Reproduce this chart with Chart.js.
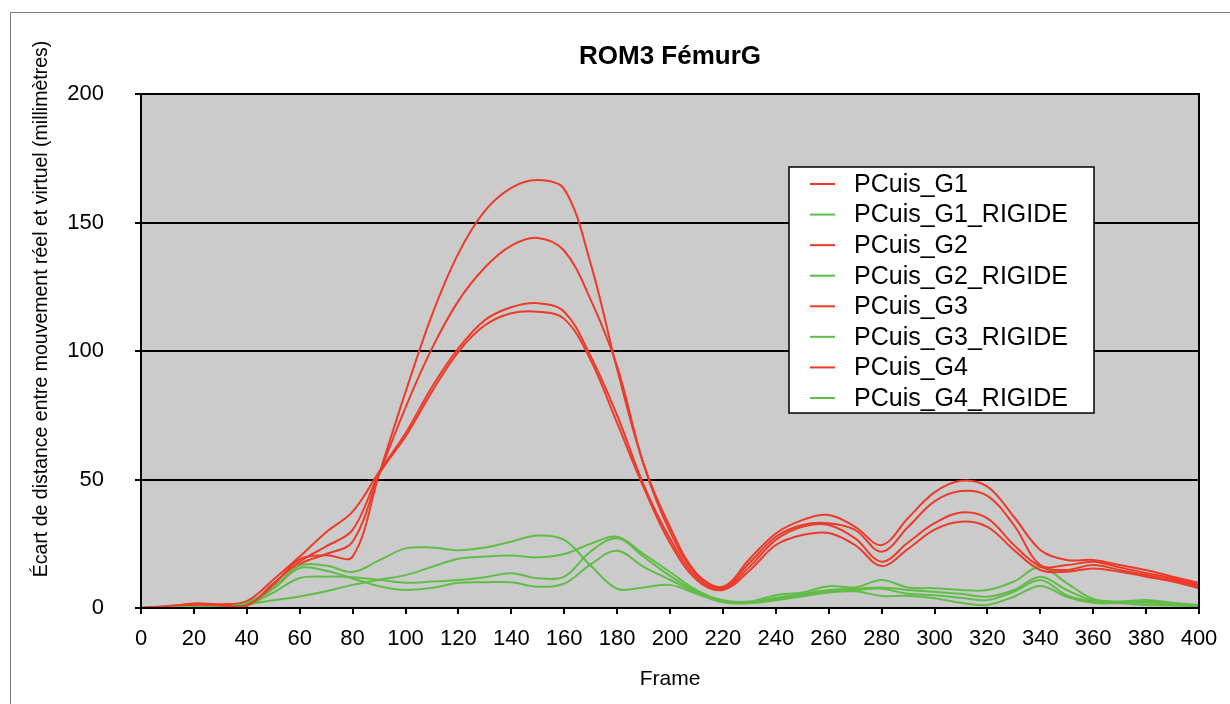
<!DOCTYPE html>
<html><head><meta charset="utf-8">
<script src="https://cdn.jsdelivr.net/npm/chart.js@4.4.0/dist/chart.umd.min.js"></script>
<style>
html,body{margin:0;padding:0;background:#fff;overflow:hidden;}
#wrap{position:relative;width:1230px;height:704px;}
#frame{position:absolute;left:10px;top:12px;width:1240px;height:710px;border-top:1px solid #808080;border-left:1px solid #808080;}
canvas{position:absolute;left:0;top:0;}
</style></head><body>
<div id="wrap"><div id="frame"></div><canvas id="c" width="1230" height="704"></canvas></div>
<script>
const chartTitle = 'ROM3 FémurG';
const xTitle = 'Frame';
const yTitle = 'Écart de distance entre mouvement réel et virtuel (millimètres)';
const frames = [0,10,20,30,40,50,60,70,80,90,100,110,120,130,140,150,160,170,180,190,200,210,220,230,240,250,260,270,280,290,300,310,320,330,340,350,360,370,380,390,400];
const seriesNames = ['PCuis_G1','PCuis_G1_RIGIDE','PCuis_G2','PCuis_G2_RIGIDE','PCuis_G3','PCuis_G3_RIGIDE','PCuis_G4','PCuis_G4_RIGIDE'];
const g1 = [0,0.8,1.5,1,1,9,19,20.5,20,52,84,114,138,154.5,163.5,166.5,163,134,93,56,31.5,13.5,8.3,19,29,34.2,36.2,31.6,24.5,35,45,49.5,47.2,35.5,22.6,18.7,18.7,16.7,14.8,12.2,9.8];
const g2 = [0,0.5,1.2,1,2,8,17,21,25.8,52,78,101,119.5,132.5,141,144,139,120,94,56,29.7,13,8,17.5,27.7,32.3,33,30.4,21.9,31.5,41.5,45.5,43.6,32.3,16.7,16.7,18,15.8,13.6,11.6,9];
const g3 = [0,0.5,1.8,1.5,2.7,11,20,29.5,37.5,53,68,86,101,112,117,118.6,115.3,98,75,48,27,12,7.5,16,26.5,31.6,32.3,27.1,18,25.5,33,37.2,34.9,24.5,16.1,14.8,16.7,14.8,12.8,10.9,8.5];
const g4 = [0,0.3,1,0.5,0.8,9.5,18,24,30.4,52,66.7,84.2,99.7,110,114.7,115.3,112.5,96.5,72,47,25.3,11,7,14.5,24.5,28.4,29.2,24.5,16.3,23,30.5,33.6,31.6,22.6,14.8,14.1,15.4,14.1,12.2,10.3,7.7];
const g1r = [0,0.3,0.5,0.6,2,8,16.5,16.5,14,18.5,23.2,23.5,22.5,23.5,25.8,28.2,26.5,16.5,7.5,8,9,5.5,2.2,1.8,3,4.5,6,6.5,4.7,4.7,3.8,2,1.2,4.4,8.6,4.4,2,1.8,1.2,1,0.6];
const g2r = [0,0.3,0.5,0.5,1.5,7.5,15.5,14.5,11.5,8.5,7,7.8,9.8,10,10,8.3,9.5,17,22.3,16,11,6,2.5,2,3.5,5,6.5,7,7.5,5.5,5,4,3.1,6.3,10.9,5,2.5,2,2,1.2,0.8];
const g3r = [0,0.2,0.4,0.5,1.2,6,11.7,12.2,12,11,9.8,10.3,10.9,12,13.5,11.6,12.2,22,27.1,20,12.5,6.5,2.8,2.2,4,5.5,7,7.5,8,7,6.3,5.5,4.4,7,12.2,7,3,2.3,2.5,1.5,1];
const g4r = [0,0.1,0.2,0.4,1.5,3,4.5,6.5,9,11,12.8,16,19.2,20,20.4,19.7,21,25,27.7,21,14,7,3,2.5,5,6,8.5,8,10.9,8,7.7,7,7,10.3,16,9.7,3.5,2.5,3.1,2,1.2];
const seriesValues = [g1,g1r,g2,g2r,g3,g3r,g4,g4r];
const RED = '#ec3b2b', GREEN = '#62bd48';
const FONT = '"Liberation Sans", Arial, Helvetica, sans-serif';

const datasets = seriesNames.map((name,i)=>({
  label: name,
  data: frames.map((f,j)=>({x:f, y:seriesValues[i][j]})),
  borderColor: i%2===0 ? RED : GREEN,
  backgroundColor: i%2===0 ? RED : GREEN,
  borderWidth: 2,
  pointRadius: 0,
  tension: 0.36,
  fill: false
}));

const deco = {
  id:'deco',
  beforeDraw(chart){
    const {ctx, chartArea:a} = chart;
    ctx.save(); ctx.fillStyle='#cbcbcb';
    ctx.fillRect(a.left,a.top,a.right-a.left,a.bottom-a.top); ctx.restore();
  },
  afterDatasetsDraw(chart){
    const {ctx, chartArea:a} = chart;
    ctx.save(); ctx.strokeStyle='#000'; ctx.lineWidth=2;
    ctx.strokeRect(a.left,a.top,a.right-a.left,a.bottom-a.top); ctx.restore();
  },
  afterDraw(chart){
    const {ctx, chartArea:a} = chart;
    ctx.save();
    ctx.fillStyle='#000';
    ctx.textAlign='center'; ctx.textBaseline='middle';
    ctx.font = 'bold 26px '+FONT;
    ctx.fillText(chartTitle,(a.left+a.right)/2,57);
    ctx.font = '21px '+FONT;
    ctx.fillText(xTitle,(a.left+a.right)/2,679);
    ctx.save();
    ctx.translate(42,309); ctx.rotate(-Math.PI/2);
    ctx.font = '19.5px '+FONT;
    ctx.fillText(yTitle,0,0);
    ctx.restore();
    // legend
    const lx=789, ly=167, lw=305, lh=246;
    ctx.fillStyle='#fff'; ctx.fillRect(lx,ly,lw,lh);
    ctx.strokeStyle='#000'; ctx.lineWidth=1.5; ctx.strokeRect(lx,ly,lw,lh);
    ctx.font='25px '+FONT; ctx.textAlign='left'; ctx.textBaseline='middle';
    chart.data.datasets.forEach((ds,i)=>{
      const y = 184 + i*30.57;
      ctx.strokeStyle=ds.borderColor; ctx.lineWidth=2;
      ctx.beginPath(); ctx.moveTo(810,y); ctx.lineTo(835,y); ctx.stroke();
      ctx.fillStyle='#000'; ctx.fillText(ds.label,854,y+1);
    });
    ctx.restore();
  }
};

new Chart(document.getElementById('c'),{
  type:'line',
  data:{datasets},
  options:{
    responsive:false, animation:false, devicePixelRatio:1,
    layout:{padding:{left:0,right:31,top:94,bottom:0}},
    plugins:{legend:{display:false},title:{display:false},tooltip:{enabled:false}},
    scales:{
      x:{type:'linear',min:0,max:400,
        afterFit(s){s.height=96;},
        ticks:{stepSize:20,color:'#000',font:{family:FONT,size:22},padding:12,maxRotation:0},
        grid:{drawOnChartArea:false,color:'#000',lineWidth:2,tickLength:6},
        border:{display:false}},
      y:{min:0,max:200,
        afterFit(s){s.width=141;},
        ticks:{stepSize:50,color:'#000',font:{family:FONT,size:22},padding:31},
        grid:{color:'#000',lineWidth:2,tickLength:6},
        border:{display:false}}
    }
  },
  plugins:[deco]
});
</script></body></html>
